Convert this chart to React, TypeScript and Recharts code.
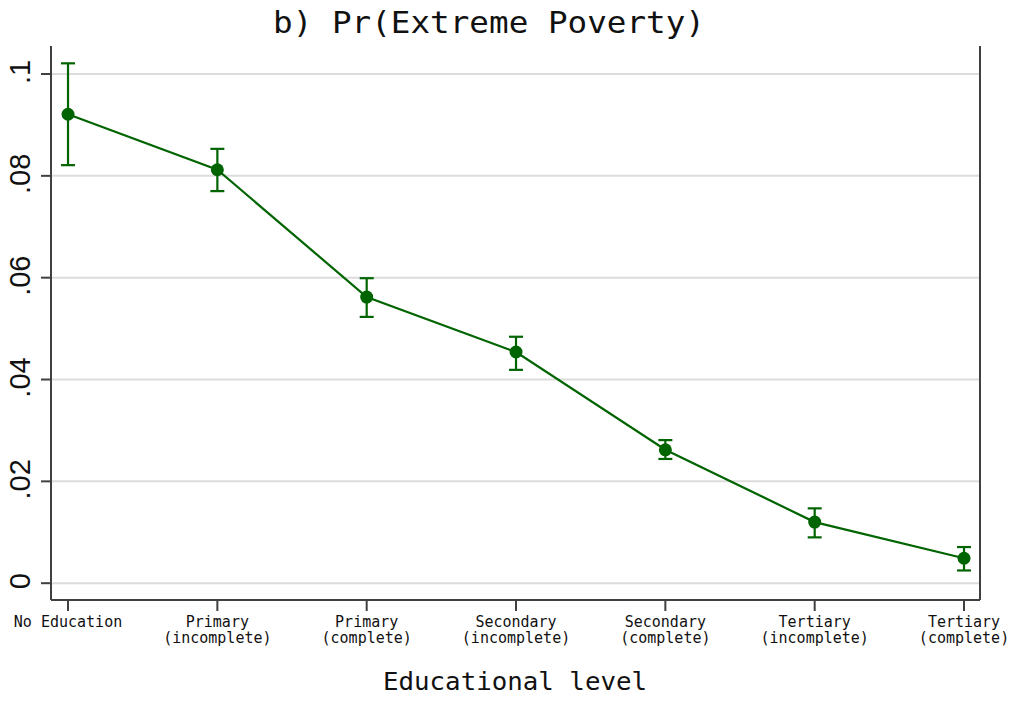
import React from "react";
import {
  LineChart,
  Line,
  XAxis,
  YAxis,
  CartesianGrid,
  ErrorBar,
} from "recharts";

// Data
const levels = [
  ["No Education"],
  ["Primary", "(incomplete)"],
  ["Primary", "(complete)"],
  ["Secondary", "(incomplete)"],
  ["Secondary", "(complete)"],
  ["Tertiary", "(incomplete)"],
  ["Tertiary", "(complete)"],
];
const prob = [0.0921, 0.0812, 0.0562, 0.0454, 0.0262, 0.012, 0.0049];
const lower = [0.0821, 0.077, 0.0523, 0.0419, 0.0244, 0.009, 0.0025];
const upper = [0.1021, 0.0853, 0.0599, 0.0484, 0.0281, 0.0147, 0.0071];
const yTicks = [0, 0.02, 0.04, 0.06, 0.08, 0.1];

const GREEN = "#006400";
const FRAME = "#404040";
const MONO = "'DejaVu Sans Mono', monospace";

const data = prob.map((v, i) => ({
  idx: i,
  prob: v,
  err: [v - lower[i], upper[i] - v],
}));

const fmtY = (v: number) => (v === 0 ? "0" : String(v).replace(/^0/, ""));

const XTick = (props: any) => {
  const { x, y, payload } = props;
  const lines = levels[payload.value] || [];
  return (
    <text
      x={x}
      y={y}
      textAnchor="middle"
      fontFamily={MONO}
      fontSize={15}
      fill="#111"
    >
      {lines.map((l, k) => (
        <tspan key={k} x={x} dy={k === 0 ? 16 : 16}>
          {l}
        </tspan>
      ))}
    </text>
  );
};

const YTick = (props: any) => {
  const { x, y, payload } = props;
  return (
    <text
      transform={`translate(${x - 11},${y - 2}) rotate(-90)`}
      textAnchor="middle"
      fontFamily="'Liberation Sans', Arial, sans-serif"
      fontSize={29}
      fill="#111"
    >
      {fmtY(payload.value)}
    </text>
  );
};

export default function App() {
  return (
    <div
      style={{
        position: "absolute",
        left: 0,
        top: 0,
        width: 1012,
        height: 702,
        background: "#fff",
      }}
    >
      <LineChart
        width={1012}
        height={702}
        data={data}
        margin={{ top: 46, right: 0, bottom: 0, left: 0 }}
      >
        <CartesianGrid
          horizontal
          vertical={false}
          stroke="#dcdcdc"
          strokeWidth={2}
          horizontalValues={yTicks}
        />
        <XAxis
          dataKey="idx"
          type="number"
          domain={[-0.114, 6.107]}
          ticks={[0, 1, 2, 3, 4, 5, 6]}
          allowDataOverflow
          height={102}
          tickSize={11}
          tickMargin={0}
          stroke={FRAME}
          strokeWidth={2}
          tick={<XTick />}
        />
        <XAxis
          xAxisId="top"
          orientation="top"
          type="number"
          domain={[-0.114, 6.107]}
          height={0}
          tick={false}
          tickLine={false}
          stroke={FRAME}
          strokeWidth={2}
        />
        <YAxis
          type="number"
          domain={[-0.0033, 0.1055]}
          ticks={yTicks}
          allowDataOverflow
          width={51}
          tickSize={10}
          tickMargin={0}
          stroke={FRAME}
          strokeWidth={2}
          tick={<YTick />}
        />
        <YAxis
          yAxisId="right"
          orientation="right"
          type="number"
          domain={[-0.0033, 0.1055]}
          width={32}
          tick={false}
          tickLine={false}
          stroke={FRAME}
          strokeWidth={2}
        />
        <Line
          dataKey="prob"
          stroke={GREEN}
          strokeWidth={2.2}
          dot={{ r: 6.5, fill: GREEN, stroke: GREEN, strokeWidth: 0 }}
          isAnimationActive={false}
        >
          <ErrorBar
            dataKey="err"
            direction="y"
            width={7}
            stroke={GREEN}
            strokeWidth={2.2}
            isAnimationActive={false}
          />
        </Line>
      </LineChart>
      <svg
        width={1012}
        height={702}
        style={{ position: "absolute", left: 0, top: 0, pointerEvents: "none" }}
      >
        <text
          x={489}
          y={33}
          textAnchor="middle"
          fontFamily={MONO}
          fontSize={31}
          textLength={432}
          lengthAdjust="spacingAndGlyphs"
          fill="#111"
        >
          b) Pr(Extreme Poverty)
        </text>
        <text
          x={515}
          y={690}
          textAnchor="middle"
          fontFamily={MONO}
          fontSize={25}
          textLength={264}
          lengthAdjust="spacingAndGlyphs"
          fill="#111"
        >
          Educational level
        </text>
      </svg>
    </div>
  );
}
